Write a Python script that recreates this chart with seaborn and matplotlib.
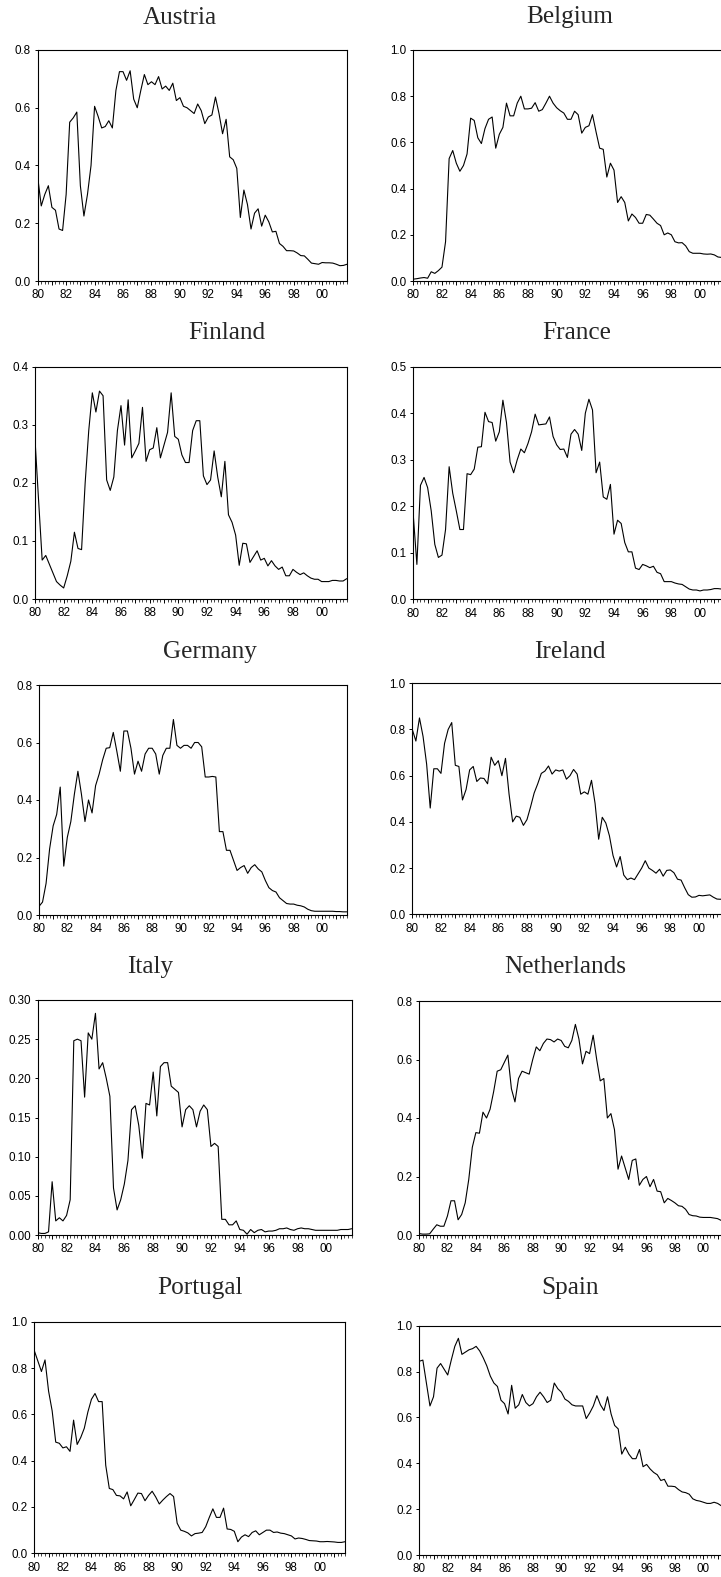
import numpy as np
import pandas as pd
import matplotlib
matplotlib.use("Agg")
import matplotlib.pyplot as plt
from matplotlib.ticker import MultipleLocator, FuncFormatter, FormatStrFormatter
import seaborn as sns

# quarterly observations 1980Q1 - 2001Q4
quarters = 1980 + np.arange(88) / 4

countries = ["Austria", "Belgium", "Finland", "France", "Germany",
             "Ireland", "Italy", "Netherlands", "Portugal", "Spain"]

austria = [.36, .26, .30, .33, .255, .245, .18, .175, .30, .55, .565, .585,
           .33, .225, .30, .40, .605, .57, .53, .535, .555, .53, .66, .725,
           .725, .695, .728, .63, .60, .66, .715, .68, .69, .68, .708, .665,
           .675, .66, .685, .625, .635, .605, .60, .59, .58, .613, .59, .545,
           .568, .575, .637, .58, .51, .56, .43, .42, .39, .22, .315, .265,
           .18, .235, .25, .19, .228, .205, .17, .172, .13, .12, .105, .105,
           .104, .097, .088, .087, .075, .062, .06, .058, .064, .063, .063, .062,
           .058, .053, .054, .058]
belgium = [.008, .01, .013, .015, .012, .04, .033, .045, .06, .17, .53, .565,
           .51, .475, .50, .55, .705, .695, .62, .595, .66, .70, .71, .575,
           .635, .665, .77, .715, .715, .77, .80, .745, .745, .748, .772, .735,
           .742, .77, .80, .77, .75, .737, .727, .70, .70, .735, .72, .64,
           .665, .672, .72, .645, .575, .57, .45, .51, .48, .34, .365, .34,
           .26, .29, .275, .25, .25, .288, .285, .268, .25, .24, .20, .208,
           .20, .17, .165, .166, .152, .127, .12, .12, .12, .117, .116, .117,
           .113, .104, .102, .107]
finland = [.275, .17, .067, .075, .06, .045, .03, .024, .019, .04, .065, .115,
           .087, .085, .20, .29, .355, .322, .358, .35, .205, .187, .21, .29,
           .333, .265, .343, .243, .255, .268, .33, .237, .257, .26, .295, .243,
           .265, .287, .355, .28, .275, .248, .235, .235, .29, .307, .307, .212,
           .197, .205, .255, .21, .176, .237, .145, .132, .11, .058, .096, .095,
           .063, .073, .083, .067, .07, .057, .066, .057, .051, .055, .04, .04,
           .051, .046, .042, .045, .04, .036, .034, .034, .03, .03, .03, .032,
           .032, .031, .031, .035]
france = [.18, .075, .245, .262, .24, .19, .118, .09, .095, .15, .285, .228,
          .19, .15, .15, .27, .268, .28, .327, .328, .402, .382, .38, .34,
          .36, .428, .38, .295, .272, .30, .323, .315, .335, .36, .398, .375,
          .376, .377, .392, .35, .332, .322, .323, .305, .355, .365, .355, .32,
          .40, .43, .407, .272, .295, .22, .215, .247, .14, .17, .163, .122,
          .102, .102, .067, .064, .075, .072, .068, .071, .058, .055, .038, .038,
          .038, .035, .033, .032, .027, .022, .02, .02, .018, .02, .02, .021,
          .023, .023, .022, .022]
germany = [.03, .045, .11, .23, .31, .35, .445, .17, .27, .325, .42, .50,
           .42, .325, .40, .355, .45, .49, .54, .58, .582, .635, .57, .50,
           .64, .64, .58, .49, .535, .50, .56, .58, .58, .56, .49, .555,
           .58, .58, .68, .59, .58, .59, .59, .58, .60, .60, .585, .48,
           .48, .482, .48, .29, .29, .225, .225, .19, .155, .165, .172, .145,
           .165, .175, .16, .15, .12, .095, .085, .08, .06, .05, .04, .038,
           .038, .034, .032, .028, .02, .015, .013, .013, .013, .013, .013, .013,
           .012, .012, .011, .011]
ireland = [.80, .75, .85, .77, .65, .46, .63, .63, .61, .74, .80, .83,
           .645, .64, .495, .54, .625, .64, .575, .59, .588, .565, .68, .645,
           .665, .60, .675, .52, .40, .425, .42, .385, .41, .465, .525, .565,
           .61, .62, .642, .607, .625, .62, .625, .585, .60, .627, .607, .52,
           .53, .52, .58, .48, .325, .42, .395, .34, .255, .205, .25, .17,
           .15, .157, .15, .175, .20, .232, .20, .19, .178, .195, .165, .19,
           .192, .18, .152, .148, .115, .085, .074, .075, .082, .08, .082, .084,
           .074, .066, .065, .07]
italy = [.003, .002, .002, .004, .068, .018, .022, .018, .025, .045, .248, .25,
         .248, .176, .258, .25, .283, .212, .22, .20, .177, .06, .032, .045,
         .065, .095, .16, .165, .14, .098, .168, .166, .208, .152, .215, .22,
         .22, .19, .186, .182, .138, .16, .165, .16, .138, .158, .166, .16,
         .113, .117, .113, .02, .02, .013, .013, .018, .007, .006, .001, .007,
         .003, .006, .007, .004, .005, .005, .006, .008, .008, .009, .007, .006,
         .008, .009, .008, .008, .007, .006, .006, .006, .006, .006, .006, .006,
         .007, .007, .007, .008]
netherlands = [.005, .003, .003, .004, .02, .035, .03, .03, .065, .117, .117, .052,
               .07, .11, .19, .30, .35, .348, .42, .40, .43, .49, .56, .565,
               .59, .615, .50, .455, .535, .56, .555, .55, .60, .643, .63, .655,
               .67, .668, .66, .67, .665, .645, .64, .665, .72, .67, .585, .628,
               .62, .683, .60, .527, .535, .40, .415, .36, .225, .27, .23, .19,
               .255, .26, .17, .19, .20, .165, .19, .15, .148, .11, .125, .118,
               .11, .10, .098, .088, .07, .066, .065, .061, .06, .06, .06, .058,
               .056, .05, .048, .05]
portugal = [.875, .83, .785, .835, .70, .615, .48, .475, .455, .46, .44, .575,
            .47, .50, .54, .61, .665, .69, .655, .655, .38, .28, .275, .25,
            .248, .235, .265, .205, .232, .26, .258, .227, .25, .268, .243, .213,
            .23, .245, .258, .245, .13, .10, .095, .088, .075, .085, .087, .09,
            .115, .155, .192, .155, .155, .195, .105, .103, .095, .05, .07, .08,
            .072, .09, .097, .08, .09, .10, .10, .09, .092, .087, .085, .08,
            .075, .062, .066, .064, .06, .055, .054, .053, .05, .05, .051, .05,
            .049, .047, .047, .05]
spain = [.845, .85, .75, .65, .69, .815, .835, .81, .785, .85, .91, .945,
         .875, .885, .895, .90, .91, .89, .86, .825, .78, .75, .735, .675,
         .66, .615, .74, .64, .655, .70, .665, .65, .66, .69, .71, .69,
         .665, .675, .75, .725, .71, .68, .67, .655, .65, .65, .65, .595,
         .62, .65, .695, .655, .63, .69, .615, .565, .55, .44, .47, .44,
         .42, .42, .46, .385, .395, .375, .36, .35, .325, .33, .30, .30,
         .298, .285, .275, .272, .265, .245, .238, .235, .23, .225, .225, .23,
         .225, .215, .21, .205]

series = [austria, belgium, finland, france, germany,
          ireland, italy, netherlands, portugal, spain]
ymax = [0.8, 1.0, 0.4, 0.5, 0.8, 1.0, 0.30, 0.8, 1.0, 1.0]
ystep = [0.2, 0.2, 0.1, 0.1, 0.2, 0.2, 0.05, 0.2, 0.2, 0.2]

# panel boxes in pixels: left, top, width, bottom ; title centre x, y
W, H = 721, 1577
boxes = [(37.7, 50, 309.3, 281), (413.3, 50, 311.8, 281),
         (35.0, 366.7, 311.7, 599), (413.3, 366.7, 311.8, 599.3),
         (39.0, 685, 307.7, 915), (412.3, 683.3, 311.8, 914.3),
         (37.7, 1000, 314.0, 1235), (419.0, 1001, 309.2, 1235),
         (34.3, 1321.7, 310.7, 1553.3), (419.3, 1325.7, 309.0, 1555)]
titles_xy = [(180, 17.5), (570, 17), (227, 333), (577, 333), (210, 652),
             (570, 652), (150, 967), (565, 967), (200, 1288), (570, 1288)]

sns.set_style("ticks")
plt.rcParams["font.family"] = ["Liberation Sans", "DejaVu Sans"]

fig = plt.figure(figsize=(W / 100, H / 100), dpi=100)

for i, name in enumerate(countries):
    l, t, w, b = boxes[i]
    ax = fig.add_axes([l / W, 1 - b / H, w / W, (b - t) / H])
    sns.lineplot(x=quarters, y=series[i], ax=ax, color="black", linewidth=0.8)
    ax.set_xlim(1980, 2001.75)
    ax.set_ylim(0, ymax[i])
    ax.yaxis.set_major_locator(MultipleLocator(ystep[i]))
    ax.yaxis.set_major_formatter(FormatStrFormatter("%.2f" if ystep[i] < 0.1 else "%.1f"))
    ax.xaxis.set_major_locator(MultipleLocator(1))
    ax.xaxis.set_minor_locator(MultipleLocator(0.25))
    ax.xaxis.set_major_formatter(FuncFormatter(
        lambda v, p: "%02d" % (int(round(v)) % 100) if int(round(v)) % 2 == 0 else ""))
    ax.tick_params(axis="both", which="major", direction="out", labelsize=8.4,
                   colors="black", width=0.7)
    ax.tick_params(axis="x", which="major", length=2.9, pad=3.2)
    ax.tick_params(axis="x", which="minor", length=1.9, width=0.6)
    ax.tick_params(axis="y", which="major", length=2.2, pad=2.6)
    for s in ax.spines.values():
        s.set_color("black")
        s.set_linewidth(0.8)
    ax.set_xlabel("")
    ax.set_ylabel("")
    tx, ty = titles_xy[i]
    fig.text(tx / W, 1 - ty / H, name, ha="center", va="center",
             fontsize=18.2, family="Liberation Serif")

fig.savefig("out.png", dpi=100)
